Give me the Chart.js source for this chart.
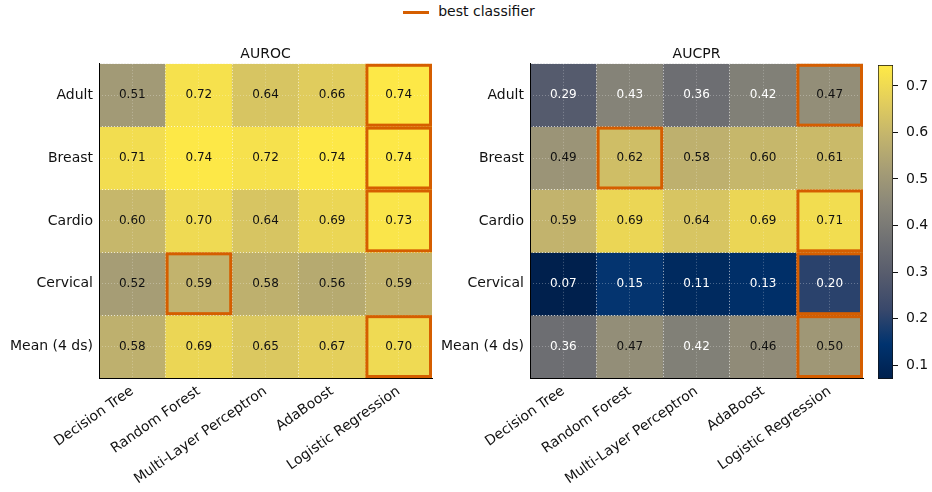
<!DOCTYPE html>
<html>
<head>
<meta charset="utf-8">
<script src="https://cdn.jsdelivr.net/npm/chart.js@4.4.1/dist/chart.umd.min.js"></script>
<style>
  body { margin: 0; background: #fff; width: 932px; height: 492px; overflow: hidden; position: relative; font-family: "DejaVu Sans", sans-serif; }
  .box { position: absolute; top: 0; height: 492px; }
  #legend { position: absolute; top: 3px; left: 3px; width: 932px; text-align: center; font-size: 14px; color: #111; }
  #legend .line { display: inline-block; width: 26px; height: 3px; background: #d55e00; vertical-align: middle; margin-right: 9px; }
</style>
</head>
<body>
<div id="legend"><span class="line"></span>best classifier</div>
<div class="box" style="left:0;width:440px"><canvas id="auroc"></canvas></div>
<div class="box" style="left:430px;width:440px"><canvas id="aucpr"></canvas></div>
<div class="box" style="left:850px;width:82px"><canvas id="cbar"></canvas></div>
<script>
const classifiers = ["Decision Tree", "Random Forest", "Multi-Layer Perceptron", "AdaBoost", "Logistic Regression"];
const datasetNames = ["Adult", "Breast", "Cardio", "Cervical", "Mean (4 ds)"];

// one row per dataset, one column per classifier
const auroc = [
  [0.51, 0.72, 0.64, 0.66, 0.74],
  [0.71, 0.74, 0.72, 0.74, 0.74],
  [0.60, 0.70, 0.64, 0.69, 0.73],
  [0.52, 0.59, 0.58, 0.56, 0.59],
  [0.58, 0.69, 0.65, 0.67, 0.70],
];
const aucpr = [
  [0.29, 0.43, 0.36, 0.42, 0.47],
  [0.49, 0.62, 0.58, 0.60, 0.61],
  [0.59, 0.69, 0.64, 0.69, 0.71],
  [0.07, 0.15, 0.11, 0.13, 0.20],
  [0.36, 0.47, 0.42, 0.46, 0.50],
];
// column index of the best classifier per row
const bestAuroc = [4, 4, 4, 1, 4];
const bestAucpr = [4, 1, 4, 4, 4];

const colorRange = [0.07, 0.745];
const colorbarTicks = [0.1, 0.2, 0.3, 0.4, 0.5, 0.6, 0.7];

const cividisStops = ["#00204d", "#00336f", "#39486b", "#575c6d", "#707173",
  "#8a8779", "#a69d75", "#c4b56c", "#e4cf5b", "#ffea46"];
const orange = "#d55e00";
const font = { family: "DejaVu Sans", size: 14 };
const textColor = "#111";

function hexRgb(h) {
  return [1, 3, 5].map((i) => parseInt(h.slice(i, i + 2), 16));
}
function cividis(t) {
  t = Math.min(1, Math.max(0, t));
  const pos = t * (cividisStops.length - 1);
  const i = Math.min(Math.floor(pos), cividisStops.length - 2);
  const f = pos - i;
  const a = hexRgb(cividisStops[i]), b = hexRgb(cividisStops[i + 1]);
  const c = a.map((v, k) => Math.round(v + (b[k] - v) * f));
  return `rgb(${c[0]},${c[1]},${c[2]})`;
}
const norm = (v) => (v - colorRange[0]) / (colorRange[1] - colorRange[0]);

// draws the best-cell outlines and the numbers on top of the grid
const cellOverlay = {
  id: "cellOverlay",
  afterDraw(chart, args, opts) {
    const ctx = chart.ctx;
    const lw = 3;
    ctx.save();
    ctx.strokeStyle = orange;
    ctx.lineWidth = lw;
    chart.data.datasets.forEach((ds, r) => {
      const bar = chart.getDatasetMeta(r).data[opts.best[r]];
      const { x, y, base, width } = bar.getProps(["x", "y", "base", "width"], true);
      const top = Math.min(y, base), h = Math.abs(base - y);
      ctx.strokeRect(x - width / 2 + lw / 2, top + lw / 2, width - lw, h - lw);
    });
    ctx.font = '12px "DejaVu Sans"';
    ctx.textAlign = "center";
    ctx.textBaseline = "middle";
    chart.data.datasets.forEach((ds, r) => {
      chart.getDatasetMeta(r).data.forEach((bar, c) => {
        const v = opts.values[r][c];
        const p = bar.getCenterPoint();
        ctx.fillStyle = v < 0.45 ? "#fff" : "#111";
        ctx.fillText(v.toFixed(2), p.x, p.y);
      });
    });
    ctx.restore();
  },
};

function heatmap(id, title, values, best, yWidth, padRight) {
  new Chart(document.getElementById(id), {
    type: "bar",
    data: {
      labels: classifiers,
      datasets: datasetNames.map((name, r) => ({
        label: name,
        data: classifiers.map(() => [r, r + 1]),
        backgroundColor: values[r].map((v) => cividis(norm(v))),
        borderWidth: 0,
        borderSkipped: false,
        barPercentage: 1,
        categoryPercentage: 1,
        grouped: false,
      })),
    },
    options: {
      responsive: true,
      maintainAspectRatio: false,
      animation: false,
      events: [],
      layout: { padding: { top: 46, right: padRight, left: 0, bottom: 0 } },
      plugins: {
        legend: { display: false },
        tooltip: { enabled: false },
        title: {
          display: true, text: title, fullSize: false, color: textColor,
          font: { ...font, weight: "normal" }, padding: { top: 0, bottom: 1 },
        },
        cellOverlay: { values, best },
      },
      scales: {
        x: {
          type: "category", offset: true,
          grid: { offset: true, drawTicks: false, z: 1, color: "rgba(255,255,255,0.7)" },
          border: { display: true, color: "#000", width: 1, dash: [1, 2], z: 2 },
          ticks: { minRotation: 35, maxRotation: 35, font, color: textColor, padding: 5, autoSkip: false },
          afterFit: (s) => { s.height = 114; },
        },
        x2: {
          type: "category", offset: true, position: "bottom",
          grid: { offset: false, drawTicks: false, z: 1, color: "rgba(255,255,255,0.28)" },
          border: { display: false, dash: [1, 2] },
          ticks: { display: false },
          afterFit: (s) => { s.height = 0; },
        },
        y: {
          type: "linear", min: 0, max: 5, reverse: true, position: "left",
          afterBuildTicks: (s) => { s.ticks = datasetNames.map((n, i) => ({ value: i + 0.5 })); },
          ticks: { callback: (v) => datasetNames[Math.floor(v)], font, color: textColor, padding: 6, autoSkip: false },
          grid: { display: false, drawTicks: false },
          border: { display: true, color: "#000", width: 1, z: 2 },
          afterFit: (s) => { s.width = yWidth; },
        },
        y2: {
          type: "linear", min: 0, max: 5, reverse: true, position: "right",
          ticks: { display: false, stepSize: 0.5 },
          grid: {
            drawTicks: false, z: 1,
            color: (c) => (Number.isInteger(c.tick.value) ? "rgba(255,255,255,0.7)" : "rgba(255,255,255,0.28)"),
          },
          border: { display: false, dash: [1, 2] },
          afterFit: (s) => { s.width = 0; },
        },
      },
    },
    plugins: [cellOverlay],
  });
}

heatmap("auroc", "AUROC", auroc, bestAuroc, 99, 8);
heatmap("aucpr", "AUCPR", aucpr, bestAucpr, 100, 7);

new Chart(document.getElementById("cbar"), {
  type: "bar",
  data: {
    labels: [""],
    datasets: [{
      data: [colorRange],
      backgroundColor: (ctx) => {
        const chart = ctx.chart;
        if (!chart.chartArea) return cividis(0.5);
        const y = chart.scales.y;
        const g = chart.ctx.createLinearGradient(0, y.getPixelForValue(colorRange[0]), 0, y.getPixelForValue(colorRange[1]));
        cividisStops.forEach((c, i) => g.addColorStop(i / (cividisStops.length - 1), c));
        return g;
      },
      borderColor: "#111",
      borderWidth: 1,
      borderSkipped: false,
      barPercentage: 1,
      categoryPercentage: 1,
    }],
  },
  options: {
    responsive: true,
    maintainAspectRatio: false,
    animation: false,
    events: [],
    layout: { padding: { top: 65, left: 28, right: 0, bottom: 113 } },
    plugins: { legend: { display: false }, tooltip: { enabled: false } },
    scales: {
      x: { display: false },
      y: {
        position: "right", min: colorRange[0], max: colorRange[1],
        afterBuildTicks: (s) => { s.ticks = colorbarTicks.map((v) => ({ value: v })); },
        ticks: { callback: (v) => v.toFixed(1), font, color: textColor, padding: 8 },
        grid: { drawOnChartArea: false, drawTicks: true, tickLength: 5, color: "#111" },
        border: { display: false },
        afterFit: (s) => { s.width = 39; },
      },
    },
  },
});
</script>
</body>
</html>
